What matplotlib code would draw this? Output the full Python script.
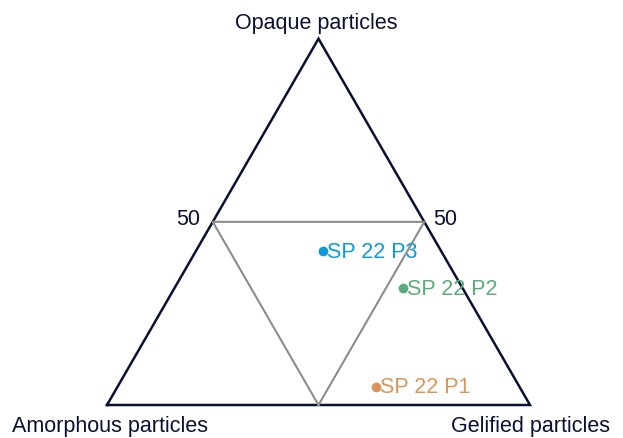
import numpy as np
import matplotlib.pyplot as plt

plt.rcParams['font.family'] = ['Liberation Sans', 'DejaVu Sans']

# ternary compositions (%), order: amorphous, gelified, opaque
samples = ["SP 22 P1", "SP 22 P2", "SP 22 P3"]
amorphous = [34, 14, 28]
gelified = [61, 54, 30]
opaque = [5, 32, 42]
colors = ["#d9955c", "#5aac7a", "#0e9bd8"]

corner_names = ["Amorphous particles", "Gelified particles", "Opaque particles"]
mid_label = "50"

ink = "#0c1030"
fs = 15.5
h = np.sqrt(3) / 2


def tern(a, g, o):
    a, g, o = np.asarray(a, float), np.asarray(g, float), np.asarray(o, float)
    s = a + g + o
    return (g + o / 2) / s, (o * h) / s


fig = plt.figure(figsize=(6.23, 4.38), dpi=100)
ax = fig.add_axes([0, 0, 1, 1])
ax.set_xlim(-107 / 423, (623 - 107) / 423)
ax.set_ylim(-(438 - 405) / 423, 405 / 423)
ax.axis('off')

# outer triangle
cx, cy = tern([100, 0, 0, 100], [0, 100, 0, 0], [0, 0, 100, 0])
ax.plot(cx, cy, color=ink, lw=1.8, solid_joinstyle='miter')

# 50% inner triangle
mx, my = tern([50, 0, 50, 50], [50, 50, 0, 50], [0, 50, 50, 0])
ax.plot(mx, my, color="#8c8c8c", lw=1.5)

# points
px, py = tern(amorphous, gelified, opaque)
for x, y, c, name in zip(px, py, colors, samples):
    ax.plot(x, y, 'o', color=c, ms=6)
    ax.text(x + 0.01, y - 0.003, name, color=c, fontsize=fs, va='center', ha='left')

# corner labels
ax.text(cx[0] + 0.007, cy[0] - 0.05, corner_names[0], color=ink, fontsize=fs,
        ha='center', va='center')
ax.text(cx[1] + 0.002, cy[1] - 0.05, corner_names[1], color=ink, fontsize=fs,
        ha='center', va='center')
ax.text(cx[2] - 0.005, cy[2] + 0.036, corner_names[2], color=ink, fontsize=fs,
        ha='center', va='center')

# 50 labels
lx, ly = tern([50, 0], [0, 50], [50, 50])
ax.text(lx[0] - 0.03, ly[0] + 0.006, mid_label, color=ink, fontsize=fs,
        ha='right', va='center')
ax.text(lx[1] + 0.022, ly[1] + 0.006, mid_label, color=ink, fontsize=fs,
        ha='left', va='center')

fig.savefig("out.png", dpi=100)
